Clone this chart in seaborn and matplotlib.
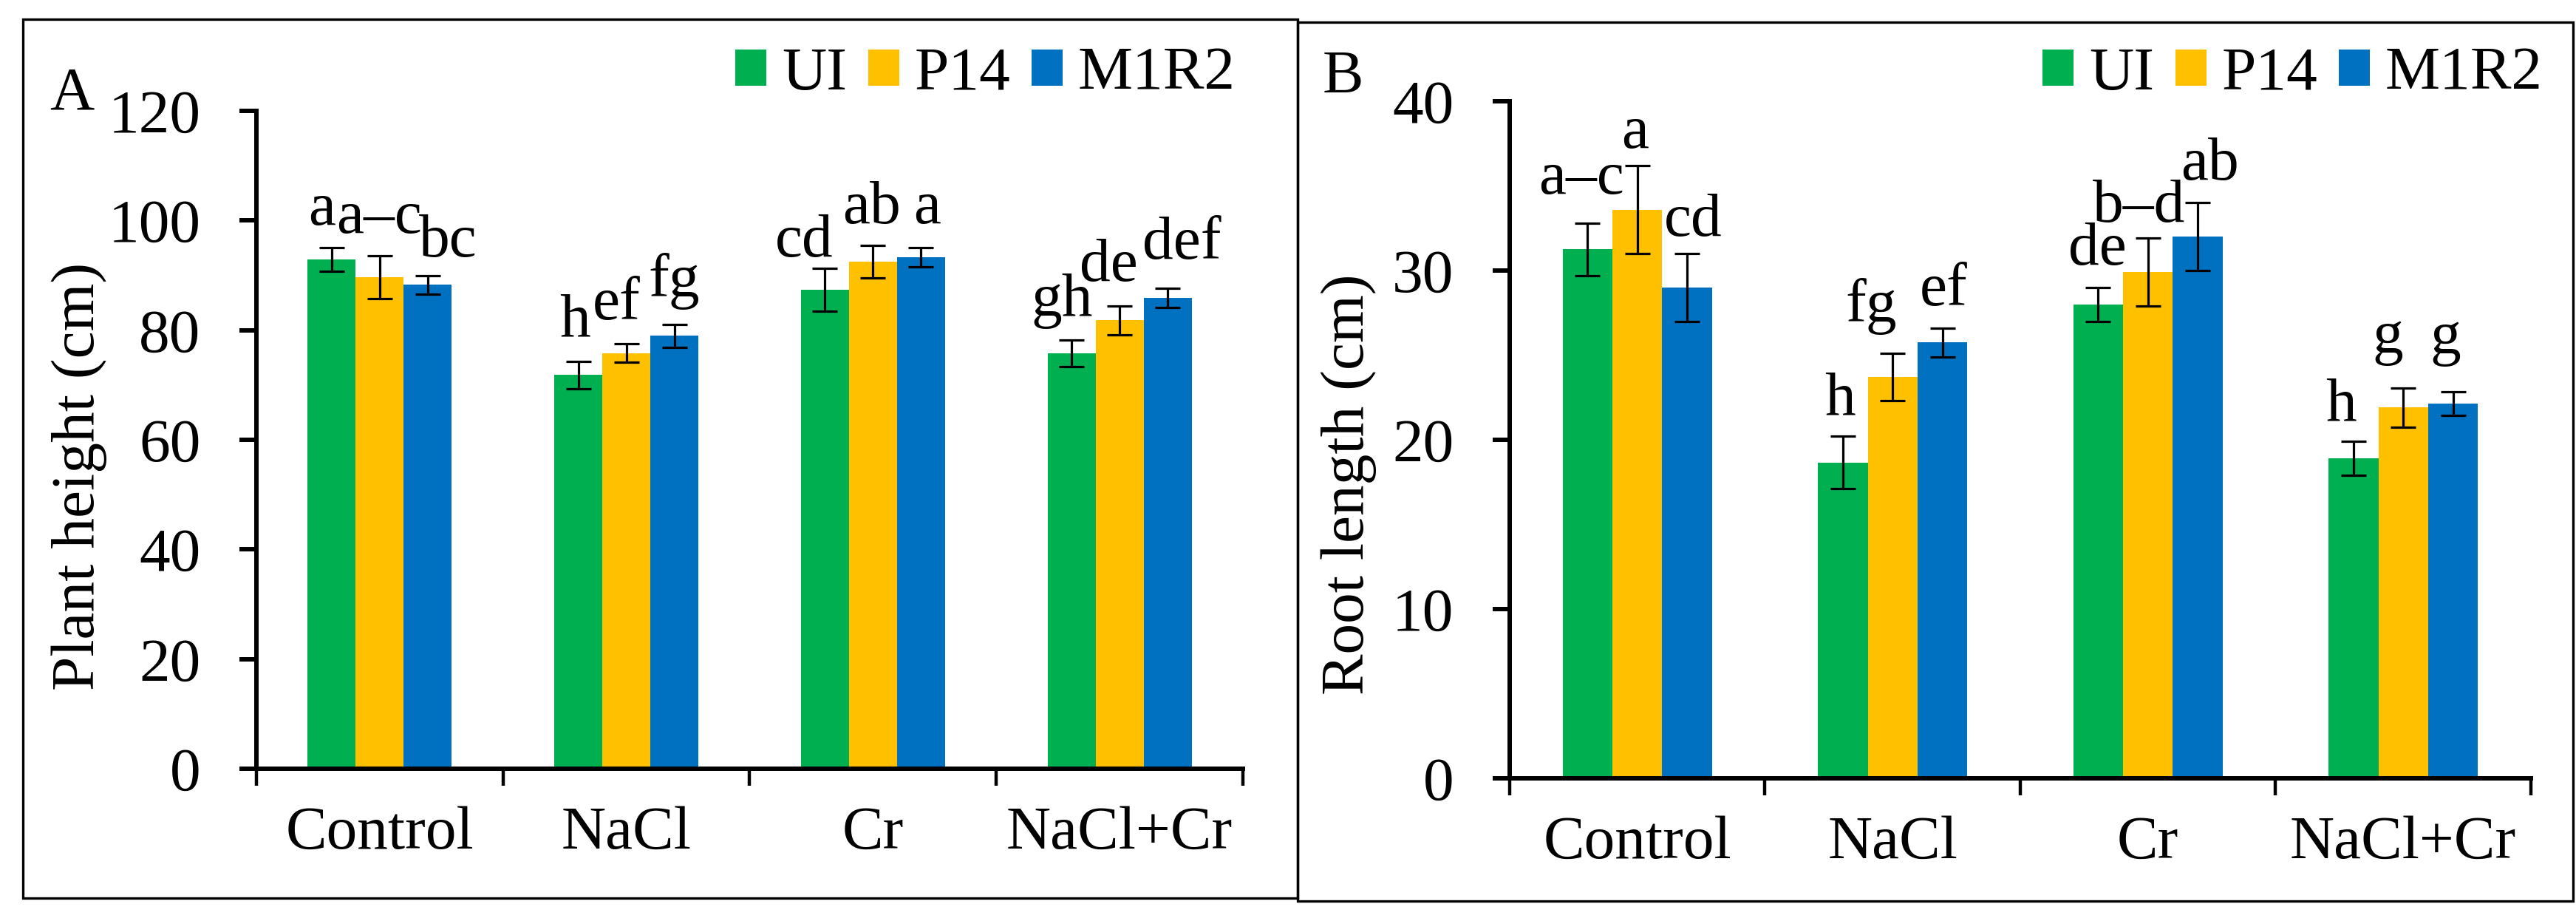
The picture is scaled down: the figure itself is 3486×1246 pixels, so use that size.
import matplotlib
matplotlib.use("Agg")
import pandas as pd
import matplotlib.pyplot as plt
import seaborn as sns
from matplotlib import font_manager as fm
from matplotlib.patches import Rectangle, Patch
from matplotlib.ticker import FixedLocator, MultipleLocator

# ---- data ----
treatments = ["Control", "NaCl", "Cr", "NaCl+Cr"]
strains = ["UI", "P14", "M1R2"]
colors = ["#00B050", "#FFC000", "#0070C0"]

# A: plant height (cm)
height_ui = [92.9, 71.8, 87.4, 75.8]
height_p14 = [89.7, 75.8, 92.5, 81.8]
height_m1r2 = [88.3, 79.0, 93.3, 85.9]
height_err_ui = [2.1, 2.5, 3.9, 2.4]
height_err_p14 = [3.9, 1.7, 3.0, 2.6]
height_err_m1r2 = [1.7, 2.1, 1.7, 1.8]
height_letters_ui = ["a", "h", "cd", "gh"]
height_letters_p14 = ["a–c", "ef", "ab", "de"]
height_letters_m1r2 = ["bc", "fg", "a", "def"]

# B: root length (cm)
root_ui = [31.25, 18.65, 28.0, 18.9]
root_p14 = [33.6, 23.7, 29.9, 21.9]
root_m1r2 = [29.0, 25.75, 32.0, 22.15]
root_err_ui = [1.55, 1.55, 1.0, 1.0]
root_err_p14 = [2.6, 1.4, 2.0, 1.15]
root_err_m1r2 = [2.0, 0.85, 2.0, 0.7]
root_letters_ui = ["a–c", "h", "de", "h"]
root_letters_p14 = ["a", "fg", "b–d", "g"]
root_letters_m1r2 = ["cd", "ef", "ab", "g"]

# nudges of the letter labels (pixels), like the hand-moved labels in the original
height_dx = [[-13, -5, -28, -13], [-1, -13, -2, -15], [27, -1, 8, 19]]
height_dy = [[31, 34, 16, 33], [31, 33, 30, 34], [25, 38, 33, 40]]
root_dx = [[-8, -4, -1, -17], [-3, -29, -12, -21], [8, 2, 16, -10]]
root_dy = [[40, 30, 31, 29], [24, 43, 22, 48], [24, 31, 31, 52]]

FS = 60
serif_path = fm.findfont(fm.FontProperties(family="Liberation Serif"))
fm.fontManager.addfont(serif_path)
serif_name = fm.FontProperties(fname=serif_path).get_name()
plt.rcParams["font.family"] = [serif_name]
plt.rcParams["font.size"] = FS
fp = fm.FontProperties(fname=serif_path, size=FS)


def long_table(ui, p14, m1r2):
    rows = []
    for s, vals in zip(strains, [ui, p14, m1r2]):
        for t, v in zip(treatments, vals):
            rows.append({"treatment": t, "strain": s, "value": v})
    return pd.DataFrame(rows)


def draw_panel(ax, means, errs, letters, dx, dy, ymax, ystep, ylabel, label_xy, legend_x):
    df = long_table(*means)
    sns.barplot(data=df, x="treatment", y="value", hue="strain", order=treatments,
                hue_order=strains, palette=colors, saturation=1, errorbar=None,
                width=0.585, gap=0, legend=False, ax=ax)
    bar_groups = list(ax.containers)
    for i, cont in enumerate(bar_groups):
        for j, bar in enumerate(cont):
            xc = bar.get_x() + bar.get_width() / 2
            top = means[i][j] + errs[i][j]
            ax.errorbar(xc, means[i][j], yerr=errs[i][j], color="black",
                        elinewidth=2.3, capsize=12, capthick=2.3, zorder=5)
            ax.annotate(letters[i][j], xy=(xc, top), xytext=(dx[i][j], dy[i][j]),
                        textcoords="offset pixels", ha="center", va="baseline",
                        fontproperties=fp)

    ax.set_xlim(-0.5, 3.5)
    ax.set_ylim(0, ymax)
    ax.yaxis.set_major_locator(MultipleLocator(ystep))
    ax.set_yticks(ax.get_yticks())
    ax.set_yticklabels([f"{v:g}" for v in ax.get_yticks()], fontproperties=fp)
    ax.set_xticks(range(len(treatments)))
    ax.set_xticklabels(treatments, fontproperties=fp)
    ax.set_ylim(0, ymax)
    ax.xaxis.set_minor_locator(FixedLocator([-0.5, 0.5, 1.5, 2.5, 3.5]))
    for side in ["top", "right"]:
        ax.spines[side].set_visible(False)
    for side in ["left", "bottom"]:
        ax.spines[side].set_linewidth(4.3)
        ax.spines[side].set_color("black")
    ax.tick_params(axis="y", which="major", length=16.5, width=4.3, pad=38,
                   direction="out", left=True)
    ax.tick_params(axis="x", which="major", length=0, pad=36)
    ax.tick_params(axis="x", which="minor", length=16.5, width=3.2, direction="out",
                   bottom=True)
    ax.set_xlabel("")
    ax.set_ylabel(ylabel, fontproperties=fp)
    ax.yaxis.set_label_coords(*label_xy)
    ax.grid(False)
    ax.set_facecolor("white")

    handles = [Patch(facecolor=c, edgecolor="none") for c in colors]
    ax.legend(handles, strains, ncol=3, frameon=False, prop=fp,
              loc="center right", bbox_to_anchor=(legend_x, 1 - 101 / 1246),
              bbox_transform=ax.figure.transFigure, borderpad=0, borderaxespad=0,
              handlelength=0.5, handleheight=0.53, handletextpad=0.25,
              columnspacing=0.35)


W, H = 3487, 1246
fig = plt.figure(figsize=(W / 100, H / 100), dpi=100, facecolor="white")

ax1 = fig.add_axes([347 / W, 1 - 1040 / H, 1335 / W, 890 / H])
ax2 = fig.add_axes([2043 / W, 1 - 1053 / H, 1382 / W, 916 / H])

draw_panel(ax1,
           [height_ui, height_p14, height_m1r2],
           [height_err_ui, height_err_p14, height_err_m1r2],
           [height_letters_ui, height_letters_p14, height_letters_m1r2],
           height_dx, height_dy, 120, 20, "Plant height (cm)",
           (-0.151, 0.444), 1672 / W)

draw_panel(ax2,
           [root_ui, root_p14, root_m1r2],
           [root_err_ui, root_err_p14, root_err_m1r2],
           [root_letters_ui, root_letters_p14, root_letters_m1r2],
           root_dx, root_dy, 40, 10, "Root length (cm)",
           (-0.130, 0.4345), 3441 / W)

# panel letters and frames
fig.text(67 / W, 1 - 147 / H, "A", fontproperties=fp, ha="left", va="baseline")
fig.text(1790 / W, 1 - 125 / H, "B", fontproperties=fp, ha="left", va="baseline")
fig.add_artist(Rectangle((31 / W, 1 - 1215 / H), 1725 / W, 1189 / H, fill=False,
                         lw=2.4, edgecolor="black", transform=fig.transFigure))
fig.add_artist(Rectangle((1756 / W, 1 - 1219 / H), 1726 / W, 1189 / H, fill=False,
                         lw=2.4, edgecolor="black", transform=fig.transFigure))

fig.savefig("out.png", dpi=100, facecolor="white")
